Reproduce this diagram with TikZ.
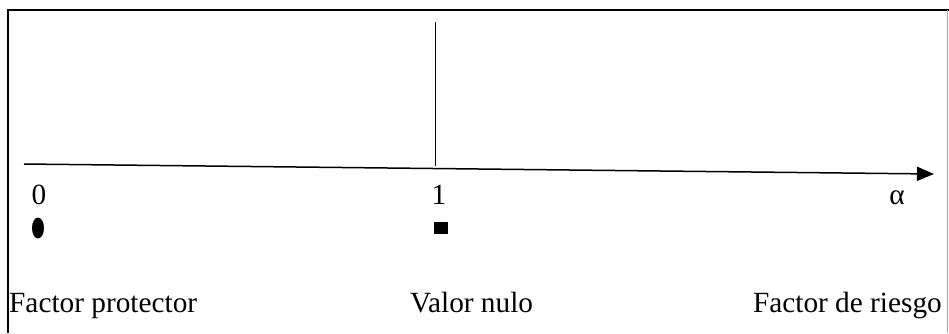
\documentclass[tikz,border=0pt]{standalone}
\usepackage{fontspec}
\setmainfont{Liberation Serif}
\usetikzlibrary{arrows.meta}
\begin{document}
\begin{tikzpicture}[x=1pt,y=-1pt,
  lbl/.style={font=\fontsize{29.3}{31}\selectfont, inner sep=0pt},
  axisline/.style={line width=1.5pt, -{Triangle[length=17pt,width=14pt]}},
  frameline/.style={line width=2.4pt}]
\useasboundingbox (0,0) rectangle (949,333);
% frame
\coordinate (fbl) at (8,333);
\coordinate (ftl) at (8,10);
\coordinate (ftr) at (949,10);
\coordinate (rtop) at (947,10);
\coordinate (rbot) at (947,333);
\draw[frameline] (fbl) -- (ftl) -- (ftr);
\draw[gray!70, line width=0.9pt] (rtop) -- (rbot);
% axis
\coordinate (a0) at (24,164);
\coordinate (a1) at (934,174);
\draw[axisline] (a0) -- (a1);
% vertical null line
\coordinate (v0) at (435,22);
\coordinate (v1) at (435,166);
\draw[line width=1pt] (v0) -- (v1);
% tick labels
\node[lbl, anchor=base] (zero) at (39,204) {0};
\node[lbl, anchor=base] (one) at (439,204) {1};
\node[lbl, anchor=base] (alpha) at (897,204) {α};
% markers
\fill (38,228) ellipse [x radius=6, y radius=10.5];
\fill (434,222) rectangle (448,234);
% bottom labels
\node[lbl, anchor=base west] (prot) at (9,312) {Factor protector};
\node[lbl, anchor=base west] (nulo) at (410,312) {Valor nulo};
\node[lbl, anchor=base east] (riesgo) at (942,312) {Factor de riesgo};
\end{tikzpicture}
\end{document}
